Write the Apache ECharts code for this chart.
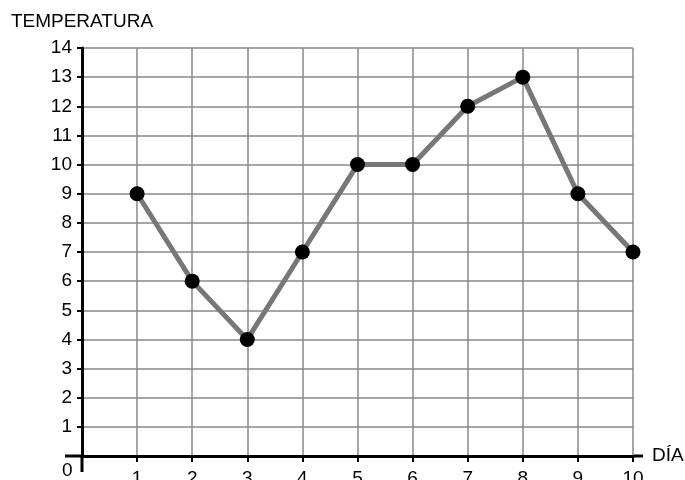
<!DOCTYPE html>
<html>
<head>
<meta charset="utf-8">
<script src="https://cdn.jsdelivr.net/npm/echarts@6/dist/echarts.min.js"></script>
<style>
  html, body { margin: 0; padding: 0; background: #fff; }
  #chart { width: 685px; height: 480px; }
</style>
</head>
<body>
<div id="chart"></div>
<script>
// datos
let dias = [1, 2, 3, 4, 5, 6, 7, 8, 9, 10];
let temperaturas = [9, 6, 4, 7, 10, 10, 12, 13, 9, 7];

let font = 'Liberation Sans';
let chart = echarts.init(document.getElementById('chart'));

let option = {
  animation: false,
  grid: { left: 82, right: 52, top: 48, bottom: 24, outerBoundsMode: 'none', containLabel: false },
  xAxis: {
    type: 'value',
    min: 0,
    max: 10,
    interval: 1,
    name: 'DÍA',
    nameLocation: 'end',
    nameGap: 19,
    nameTextStyle: { color: '#000', fontSize: 19, fontFamily: font, verticalAlign: 'middle' },
    axisLine: { lineStyle: { color: '#000', width: 3 } },
    axisTick: { length: 6, lineStyle: { color: '#000', width: 2 } },
    axisLabel: {
      color: '#000', fontSize: 19, fontFamily: font, margin: 13,
      formatter: function (v) { return v === 0 ? '' : String(v); }
    },
    splitLine: { show: true, lineStyle: { color: '#888', width: 1.5 } }
  },
  yAxis: {
    type: 'value',
    min: 0,
    max: 14,
    interval: 1,
    name: 'TEMPERATURA',
    nameLocation: 'end',
    nameGap: 17,
    nameTextStyle: { color: '#000', fontSize: 19, fontFamily: font },
    axisLine: { show: true, lineStyle: { color: '#000', width: 3 } },
    axisTick: { show: true, length: 5, lineStyle: { color: '#000', width: 2 } },
    axisLabel: {
      color: '#000', fontSize: 19, fontFamily: font, margin: 10,
      formatter: function (v) { return v === 0 ? '' : String(v); }
    },
    splitLine: { show: true, lineStyle: { color: '#888', width: 1.5 } }
  },
  graphic: [
    { type: 'line', shape: { x1: 82, y1: 456, x2: 82, y2: 472 }, style: { stroke: '#000', lineWidth: 3 } },
    { type: 'line', shape: { x1: 65, y1: 456, x2: 82, y2: 456 }, style: { stroke: '#000', lineWidth: 3 } },
    { type: 'line', shape: { x1: 633, y1: 456, x2: 643, y2: 456 }, style: { stroke: '#000', lineWidth: 3 } },
    { type: 'text', left: 62, top: 461, style: { text: '0', fill: '#000', font: '19px "Liberation Sans"' } }
  ],
  series: [{
    type: 'line',
    data: dias.map((d, i) => [d, temperaturas[i]]),
    lineStyle: { color: '#777', width: 5 },
    symbol: 'circle',
    symbolSize: 15,
    itemStyle: { color: '#000', borderWidth: 0 },
    z: 5
  }]
};
chart.setOption(option);
</script>
</body>
</html>
